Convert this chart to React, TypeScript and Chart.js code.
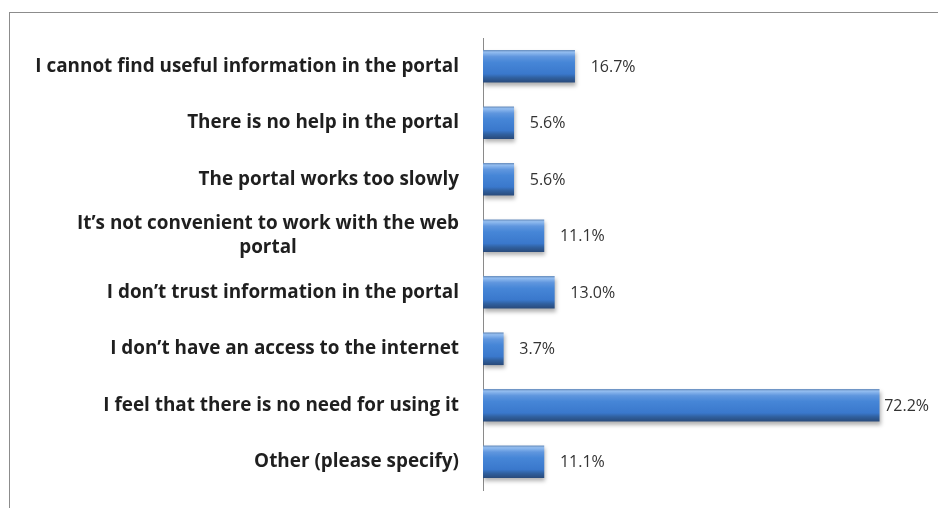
import React, { useEffect, useRef } from "react";
import { Chart, registerables } from "chart.js";

Chart.register(...registerables);

const categories: (string | string[])[] = [
  "I cannot find useful information in the portal",
  "There is no help in the portal",
  "The portal works too slowly",
  ["It\u2019s not convenient to work with the web", "portal"],
  "I don\u2019t trust information in the portal",
  "I don\u2019t have an access to the internet",
  "I feel that there is no need for using it",
  "Other (please specify)",
];
const values: number[] = [16.7, 5.6, 5.6, 11.1, 13.0, 3.7, 72.2, 11.1];
const valueLabels: string[] = ["16.7%", "5.6%", "5.6%", "11.1%", "13.0%", "3.7%", "72.2%", "11.1%"];

const LABEL_FONT = "bold 18.9px 'Open Sans', 'Noto Sans', sans-serif";
const VALUE_FONT = "16px 'Open Sans', 'Noto Sans', sans-serif";

const labelPlugin = {
  id: "customLabels",
  afterDatasetsDraw(chart: any) {
    const ctx = chart.ctx;
    const yScale = chart.scales.y;
    const area = chart.chartArea;
    ctx.save();
    ctx.font = LABEL_FONT;
    ctx.fillStyle = "#1f1f1f";
    ctx.textBaseline = "middle";
    const labels = chart.data.labels as (string | string[])[];
    const lineH = 24;
    labels.forEach((lab, i) => {
      const lines = Array.isArray(lab) ? lab : [lab];
      const y = yScale.getPixelForValue(i);
      const widths = lines.map((l) => ctx.measureText(l).width);
      const blockW = Math.max(...widths);
      const right = area.left - 24;
      lines.forEach((l, j) => {
        const cx = right - blockW / 2;
        ctx.textAlign = "center";
        ctx.fillText(l, cx, y + (j - (lines.length - 1) / 2) * lineH);
      });
    });
    ctx.font = VALUE_FONT;
    ctx.fillStyle = "#333333";
    ctx.textAlign = "left";
    const meta = chart.getDatasetMeta(0);
    meta.data.forEach((el: any, i: number) => {
      const off = i === 6 ? 5 : 16;
      ctx.fillText(valueLabels[i], el.x + off, el.y + 1);
    });
    ctx.restore();
  },
};

const shadowPlugin = {
  id: "barShadow",
  beforeDatasetsDraw(chart: any) {
    const ctx = chart.ctx;
    ctx.save();
    ctx.shadowColor = "rgba(0,0,0,0.3)";
    ctx.shadowBlur = 4;
    ctx.shadowOffsetX = 1;
    ctx.shadowOffsetY = 3;
  },
  afterDatasetsDraw(chart: any) {
    chart.ctx.restore();
  },
};

export default function App() {
  const ref = useRef<HTMLCanvasElement | null>(null);
  useEffect(() => {
    if (!ref.current) return;
    const BAR = 32;
    const chart = new Chart(ref.current, {
      type: "bar",
      data: {
        labels: categories,
        datasets: [
          {
            data: values,
            barThickness: BAR,
            borderWidth: 0,
            borderSkipped: false,
            backgroundColor: (c: any) => {
              const ch = c.chart;
              const y = ch.scales?.y;
              if (!y || c.dataIndex === undefined) return "#3f7bcc";
              const cy = y.getPixelForValue(c.dataIndex);
              if (!Number.isFinite(cy)) return "#3f7bcc";
              const g = ch.ctx.createLinearGradient(0, cy - BAR / 2, 0, cy + BAR / 2);
              g.addColorStop(0, "#6a90c0");
              g.addColorStop(0.06, "#93bdf0");
              g.addColorStop(0.2, "#5f96de");
              g.addColorStop(0.38, "#4686d7");
              g.addColorStop(0.74, "#3a78cc");
              g.addColorStop(0.86, "#30609f");
              g.addColorStop(1, "#294b7c");
              return g;
            },
          },
        ],
      },
      options: {
        indexAxis: "y",
        animation: false,
        responsive: false,
        maintainAspectRatio: false,
        layout: { padding: { top: 25, right: 16, bottom: 18, left: 0 } },
        plugins: { legend: { display: false }, tooltip: { enabled: false } },
        scales: {
          x: { display: false, min: 0, max: 80 },
          y: {
            ticks: { display: false },
            grid: { display: false },
            border: { display: true, color: "#8a8a8a", width: 1 },
            afterFit: (s: any) => {
              s.width = 473;
            },
          },
        },
      },
      plugins: [shadowPlugin, labelPlugin],
    });
    chart.update();
    return () => chart.destroy();
  }, []);
  return (
    <div
      style={{
        position: "fixed",
        left: 9,
        top: 12,
        width: 940,
        height: 510,
        borderLeft: "1px solid #8c8c8c",
        borderTop: "1px solid #8c8c8c",
        background: "#fff",
      }}
    >
      <canvas ref={ref} width={928} height={495} style={{ display: "block" }} />
    </div>
  );
}
